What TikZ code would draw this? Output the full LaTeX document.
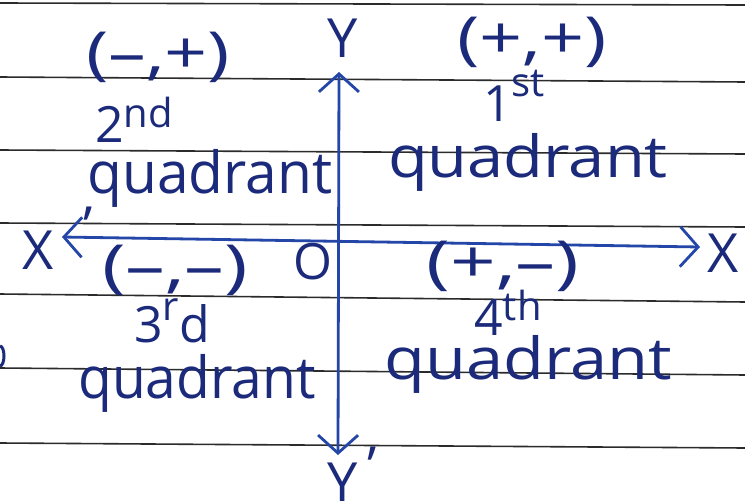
\documentclass[tikz,border=0pt]{standalone}
\usepackage{fontspec}
\setmainfont{Open Sans}
\usetikzlibrary{arrows.meta}
\definecolor{ink}{HTML}{1B2A7A}
\definecolor{axisblue}{HTML}{2346A8}
\definecolor{rulegrey}{HTML}{2B2B2B}
\newcommand\hwx[2]{\scalebox{#1}[1]{#2}}
\newcommand\hsup[2]{\raisebox{#1}{\fontsize{40}{40}\selectfont #2}}
\begin{document}
\begin{tikzpicture}[x=1pt,y=-1pt,
  ruled/.style={rulegrey, line width=1.6pt},
  axisline/.style={axisblue, line width=2.8pt,
    {Straight Barb[length=18pt,width=40pt]}-{Straight Barb[length=18pt,width=40pt]}},
  hand/.style={ink, inner sep=0pt, font=\fontsize{58}{58}\selectfont},
  handnum/.style={ink, inner sep=0pt, font=\fontsize{50}{50}\selectfont},
  handq/.style={ink, inner sep=0pt, font=\fontsize{58}{58}\selectfont},
  handsm/.style={ink, inner sep=0pt, font=\fontsize{54}{54}\selectfont}]
\useasboundingbox (0,0) rectangle (745,501);
\fill[white] (0,0) rectangle (745,501);
% ruled notebook lines
\draw[ruled] (0,3) -- (745,5);
\draw[ruled] (0,77) -- (745,82);
\draw[ruled] (0,150) -- (745,154);
\draw[ruled] (0,223) -- (745,227);
\draw[ruled] (0,294) -- (745,302);
\draw[ruled] (0,368) -- (745,375);
\draw[ruled] (0,443) -- (745,448);
% margin mark at left edge
\draw[ink, line width=3pt] (0,366) arc[start angle=90, end angle=-90, x radius=4, y radius=10];
% axes
\coordinate (ytop) at (339,72);
\coordinate (ybot) at (338,455);
\coordinate (xleft) at (62,237);
\coordinate (xright) at (700,247);
\draw[axisline] (xleft) -- (xright);
\draw[axisline] (ytop) -- (ybot);
% axis labels
\node[handsm] (Y) at (343,38) {Y};
\node[handsm] (Yp) at (352,474) {Y\hspace{10pt}\raisebox{0.3em}{'}};
\node[handsm] (Xp) at (58,238) {X\hspace{30pt}\raisebox{0.45em}{'}};
\node[handsm] (X) at (723,253) {X};
\node[handnum] (O) at (313,262) {O};
% quadrant II
\node[hand] (s2) at (158,57) {\hwx{1.3}{(\textendash,+)}};
\node[handnum] (n2) at (134,120) {2\hsup{0.3em}{nd}};
\node[handq] (q2) at (210,178) {\hwx{0.98}{quadrant}};
% quadrant I
\node[hand] (s1) at (532,42) {\hwx{1.3}{(+,+)}};
\node[handnum] (n1) at (514,96) {1\hsup{0.5em}{st}};
\node[handq] (q1) at (528,162) {\hwx{1.12}{quadrant}};
% quadrant III
\node[hand] (s3) at (175,270) {\hwx{1.37}{(\textendash,\textendash)}};
\node[handnum] (n3) at (172,321) {3\hsup{0.45em}{r}d};
\node[handq] (q3) at (197,383) {\hwx{0.95}{quadrant}};
% quadrant IV
\node[hand] (s4) at (503,266) {\hwx{1.38}{(+,\textendash)}};
\node[handnum] (n4) at (508,313) {4\hsup{0.3em}{th}};
\node[handq] (q4) at (528,364) {\hwx{1.15}{quadrant}};
\end{tikzpicture}
\end{document}
